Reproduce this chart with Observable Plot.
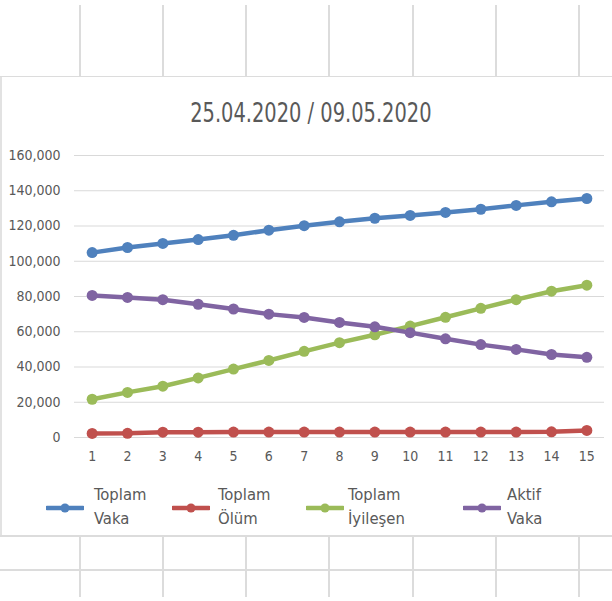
<!DOCTYPE html>
<html>
<head>
<meta charset="utf-8">
<script src="https://cdn.jsdelivr.net/npm/d3@7"></script>
<script src="https://cdn.jsdelivr.net/npm/@observablehq/plot@0.6"></script>
<style>
  body { margin: 0; background: #fff; }
  #sheet {
    position: relative; width: 612px; height: 601px; overflow: hidden; background: #fff;
    font-family: "DejaVu Sans Condensed", "Liberation Sans", sans-serif;
    color: #595959;
  }
  .vl { position: absolute; width: 2px; background: #dcdcdc; }
  .hl { position: absolute; left: 0; width: 612px; height: 2px; background: #dcdcdc; }
  #box { position: absolute; left: 0; top: 77px; width: 612px; height: 458px; background: #fff; border-left: 2px solid #e2e2e2; box-sizing: border-box; }
  #title { position: absolute; left: 5px; top: 99px; width: 612px; text-align: center; font-size: 27px; line-height: 27px; }
  #title span { display: inline-block; transform: scaleX(0.8); }
  #chart { position: absolute; left: 0; top: 140px; }
  .item { position: absolute; top: 483px; }
  .item svg { position: absolute; left: 0; top: 20px; }
  .item .lab { position: absolute; top: 0; font-size: 16.5px; line-height: 24px; white-space: nowrap; }
</style>
</head>
<body>
<div id="sheet"></div>
<script>
// Turkey COVID-19 totals, 15 consecutive days
const days = [1, 2, 3, 4, 5, 6, 7, 8, 9, 10, 11, 12, 13, 14, 15];
const toplamVaka = [104900, 107800, 110100, 112300, 114700, 117600, 120200, 122400, 124400, 126000, 127700, 129500, 131700, 133700, 135600];
const toplamOlum = [2300, 2400, 3000, 3000, 3100, 3100, 3100, 3100, 3100, 3100, 3100, 3100, 3100, 3200, 4000];
const toplamIyilesen = [21700, 25600, 29100, 33800, 38800, 43700, 48900, 53800, 58300, 63200, 68200, 73300, 78200, 83000, 86400];
const aktifVaka = [80600, 79500, 78200, 75600, 72900, 70000, 68100, 65300, 62800, 59500, 56000, 52700, 50000, 47100, 45500];
const yTicks = [0, 20000, 40000, 60000, 80000, 100000, 120000, 140000, 160000];
const seriesNames = [["Toplam", "Vaka"], ["Toplam", "Ölüm"], ["Toplam", "İyileşen"], ["Aktif", "Vaka"]];
const seriesColors = ["#4f81bd", "#c0504d", "#9bbb59", "#8064a2"];
const title = "25.04.2020 / 09.05.2020";

const seriesValues = [toplamVaka, toplamOlum, toplamIyilesen, aktifVaka];
const rows = seriesValues.flatMap((vals, s) =>
  vals.map((v, i) => ({ day: days[i], value: v, series: seriesNames[s].join(" ") }))
);
const seriesKeys = seriesNames.map(n => n.join(" "));

const sheet = document.getElementById("sheet");

// spreadsheet cell lines around the chart object
const colX = [79, 162, 245, 328, 412, 495, 578];
for (const x of colX) {
  const top = document.createElement("div");
  top.className = "vl"; top.style.left = x + "px"; top.style.top = "5px"; top.style.height = "72px";
  sheet.appendChild(top);
  const bot = document.createElement("div");
  bot.className = "vl"; bot.style.left = x + "px"; bot.style.top = "535px"; bot.style.height = "62px";
  sheet.appendChild(bot);
}
for (const y of [76, 535, 569]) {
  const h = document.createElement("div");
  h.className = "hl"; h.style.top = y + "px";
  sheet.appendChild(h);
}

const box = document.createElement("div");
box.id = "box";
sheet.appendChild(box);

const t = document.createElement("div");
t.id = "title";
const ts = document.createElement("span");
ts.textContent = title;
t.appendChild(ts);
sheet.appendChild(t);

const chart = Plot.plot({
  width: 612,
  height: 335,
  marginLeft: 74,
  marginRight: 8,
  marginTop: 15,
  marginBottom: 38,
  style: { fontFamily: "'DejaVu Sans Condensed', sans-serif", fontSize: "14px", color: "#595959", background: "transparent" },
  x: { domain: [0.5, 15.5] },
  y: { domain: [0, 160000] },
  color: { domain: seriesKeys, range: seriesColors },
  marks: [
    Plot.gridY(yTicks, { stroke: "#d9d9d9", strokeOpacity: 1 }),
    Plot.axisY({ ticks: yTicks, tickSize: 0, tickPadding: 14, tickFormat: d3.format(","), label: null }),
    Plot.axisX({ ticks: days, tickSize: 0, tickPadding: 14, tickFormat: d => String(d), label: null }),
    ...seriesKeys.flatMap(k => [
      Plot.line(rows.filter(r => r.series === k), { x: "day", y: "value", stroke: "series", strokeWidth: 4.5 }),
      Plot.dot(rows.filter(r => r.series === k), { x: "day", y: "value", fill: "series", r: 5.5 })
    ])
  ]
});
const holder = document.createElement("div");
holder.id = "chart";
holder.appendChild(chart);
sheet.appendChild(holder);

// legend below the plot
const legendX = [46, 172, 306, 463];
const labelOffset = [48, 46, 42, 44];
seriesNames.forEach((name, i) => {
  const item = document.createElement("div");
  item.className = "item";
  item.style.left = legendX[i] + "px";
  item.innerHTML =
    `<svg width="38" height="10"><line x1="1" y1="5" x2="37" y2="5" stroke="${seriesColors[i]}" stroke-width="4.5" stroke-linecap="round"/>` +
    `<circle cx="19" cy="5" r="4.5" fill="${seriesColors[i]}"/></svg>` +
    `<div class="lab" style="left:${labelOffset[i]}px">${name[0]}<br>${name[1]}</div>`;
  sheet.appendChild(item);
});
</script>
</body>
</html>
